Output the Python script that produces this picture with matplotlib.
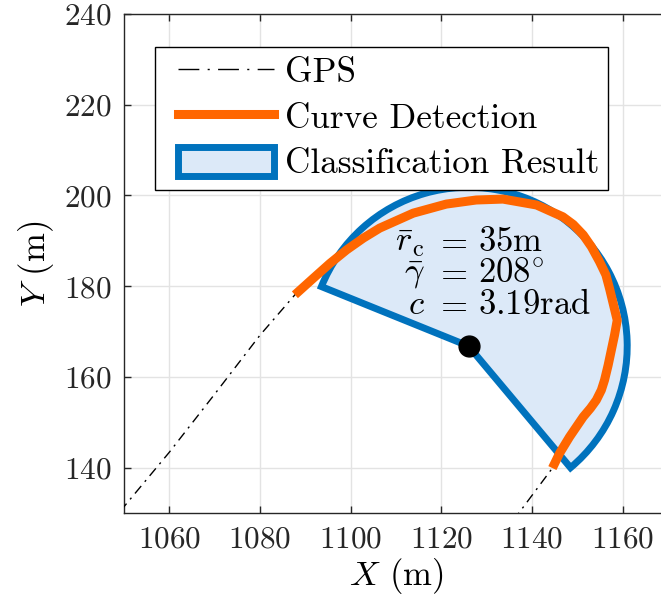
import matplotlib
matplotlib.use("Agg")
import matplotlib.pyplot as plt
from matplotlib.patches import Wedge, Patch, Rectangle
from matplotlib.lines import Line2D

plt.rcParams['font.family'] = 'serif'
plt.rcParams['font.serif'] = ['cmr10', 'DejaVu Serif']
plt.rcParams['mathtext.fontset'] = 'cm'
plt.rcParams['axes.formatter.use_mathtext'] = True

# ---------------- data ----------------
curve_x = [1087.7, 1091.7, 1095.4, 1099.1, 1102.8, 1106.4, 1113.8, 1121.1, 1127.7,
           1133.6, 1141.0, 1146.8, 1149.1, 1151.3, 1153.1, 1154.9, 1156.3, 1157.1,
           1158.8, 1158.2, 1157.5, 1156.8, 1156.0, 1155.3, 1154.2, 1152.9, 1151.3,
           1149.8, 1148.3, 1146.1, 1144.5]
curve_y = [178.1, 181.7, 185.0, 188.0, 190.6, 192.8, 196.1, 198.1, 199.0,
           199.2, 197.9, 195.3, 193.6, 191.3, 188.7, 185.4, 182.5, 179.5,
           172.5, 169.2, 165.9, 162.6, 159.3, 157.1, 154.9, 153.1, 151.2,
           149.0, 146.8, 143.2, 139.9]

gps_x = [1046.0, 1050.0, 1060.0, 1070.0, 1080.0, 1087.7, 1091.7, 1095.4, 1099.1, 1102.8,
         1106.4, 1113.8, 1121.1, 1127.7, 1133.6, 1141.0, 1146.8, 1151.3, 1154.9, 1157.1,
         1158.8, 1157.5, 1156.0, 1154.2, 1151.3, 1148.3, 1146.1, 1144.5, 1137.1, 1135.5]
gps_y = [126.5, 131.4, 143.4, 156.2, 169.2, 178.1, 181.7, 185.0, 188.0, 190.6,
         192.8, 196.1, 198.1, 199.0, 199.2, 197.9, 195.3, 191.3, 185.4, 179.5,
         172.5, 165.9, 159.3, 154.9, 151.2, 146.8, 143.2, 139.9, 130.0, 128.0]

center = (1126.0, 166.8)
radius = 35.0
theta_start = -50.0
theta_end = 158.0

ann_lhs = [r'$\bar{r}_{\mathrm{c}}$', r'$\bar{\gamma}$', r'$c$']
ann_rhs = [r'$35\mathrm{m}$', r'$208^{\circ}$', r'$3.19\mathrm{rad}$']

xticks = [1060, 1080, 1100, 1120, 1140, 1160]
yticks = [140, 160, 180, 200, 220, 240]
legend_labels = ['GPS', 'Curve Detection', 'Classification Result']

# ---------------- colors ----------------
c_blue = '#0072BD'
c_fill = '#DCE9F8'
c_orange = '#FF6600'
c_axis = '#262626'

fig = plt.figure(figsize=(6.61, 6.09), dpi=100)
ax = fig.add_axes([124/661, (609-513)/609, 544/661, 499/609])

ax.plot(gps_x, gps_y, color='k', lw=1.0, ls=(0, (7, 4, 1.5, 4)), zorder=3)
w = Wedge(center, radius, theta_start, theta_end, facecolor=c_fill,
          edgecolor=c_blue, lw=5.0, joinstyle='miter', zorder=4)
ax.add_patch(w)
ax.plot(curve_x, curve_y, color=c_orange, lw=6.5, solid_capstyle='butt',
        solid_joinstyle='round', zorder=5)
ax.plot([center[0]], [center[1]], 'o', color='k', markersize=15, zorder=6)

# annotation aligned at '='
eq_x = 1122.0
ybase = [187.8, 181.0, 173.8]
for lhs, rhs, yb in zip(ann_lhs, ann_rhs, ybase):
    ax.text(eq_x - 5.7, yb, lhs, ha='right', va='baseline', fontsize=25, zorder=7)
    ax.text(eq_x, yb, r'$=$', ha='center', va='baseline', fontsize=25, zorder=7)
    ax.text(eq_x + 6.0, yb, rhs, ha='left', va='baseline', fontsize=25, zorder=7)

ax.set_xlim(1050, 1170)
ax.set_ylim(130, 240)
ax.set_xticks(xticks)
ax.set_yticks(yticks)
ax.grid(True, color='#e3e3e3', lw=1.0, zorder=0)
ax.set_axisbelow(True)
ax.tick_params(direction='in', length=5, width=1.0, colors=c_axis,
               labelsize=22.5, top=True, right=True, pad=9)
for s in ax.spines.values():
    s.set_color(c_axis)
    s.set_linewidth(1.0)

ax.set_xlabel(r'$X$ (m)', fontsize=25, color='k', labelpad=2)
ax.set_ylabel(r'$Y$ (m)', fontsize=25, color='k', labelpad=6)

# legend frame (drawn explicitly) + legend contents
frame = Rectangle((0.0570, 0.6473), 0.8333, 0.2872, transform=ax.transAxes,
                  facecolor='white', edgecolor='k', lw=1.0, zorder=9)
ax.add_patch(frame)

handles = [Line2D([], [], color='k', lw=1.0, ls=(0, (15, 6, 1.5, 6))),
           Line2D([], [], color=c_orange, lw=6.5),
           Patch(facecolor=c_fill, edgecolor=c_blue, lw=5.0)]
leg = ax.legend(handles, legend_labels, loc='upper left', bbox_to_anchor=(0.0995, 0.917),
                borderaxespad=0, fontsize=25.3, frameon=False,
                handlelength=2.72, handleheight=0.9, handletextpad=0.32,
                labelspacing=0.34, borderpad=0.0)
leg.set_zorder(10)

fig.savefig('out.png', dpi=100)
